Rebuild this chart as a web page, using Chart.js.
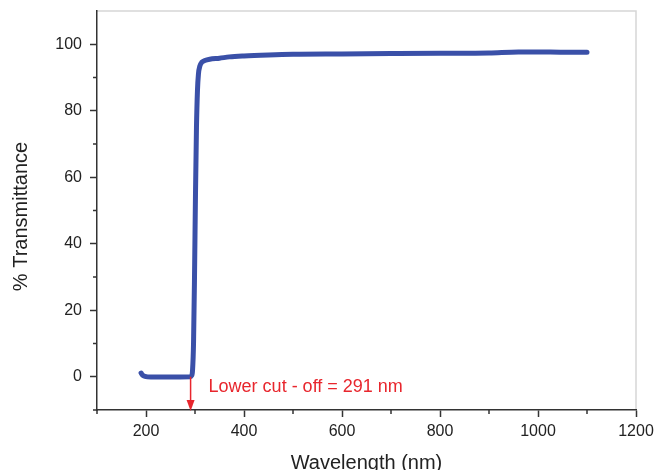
<!DOCTYPE html>
<html>
<head>
<meta charset="utf-8">
<script src="https://cdn.jsdelivr.net/npm/chart.js@4.4.1/dist/chart.umd.min.js"></script>
<style>
  html, body { margin: 0; padding: 0; background: #fff; overflow: hidden; }
  #wrap { width: 656px; height: 470px; }
</style>
</head>
<body>
<div id="wrap"><canvas id="spectrum" width="656" height="470"></canvas></div>
<script>
// UV-Vis-NIR transmittance spectrum
const wavelength = [190, 193, 198, 210, 250, 290, 293, 295, 297, 299, 301, 303, 305, 307, 310, 314,
  320, 330, 350, 370, 400, 450, 500, 600, 700, 800, 900, 960, 1000, 1050, 1100];
const transmittance = [1.1, 0.5, 0.1, -0.1, -0.1, 0.0, 0.3, 2, 10, 30, 55, 75, 86, 91, 93.5, 94.6,
  95.1, 95.5, 95.8, 96.2, 96.5, 96.8, 97.0, 97.1, 97.2, 97.3, 97.4, 97.7, 97.7, 97.6, 97.6];

const xMajor = [200, 400, 600, 800, 1000, 1200];
const xMinor = [100, 300, 500, 700, 900, 1100];
const yMajor = [0, 20, 40, 60, 80, 100];
const yMinor = [-10, 10, 30, 50, 70, 90];

const cutOff = 291;
const cutOffLabel = 'Lower cut - off = 291 nm';
const xTitle = 'Wavelength (nm)';
const yTitle = '% Transmittance';

const FONT = "'Liberation Sans', Arial, Helvetica, sans-serif";
const AXIS = '#333333';
const RED = '#e8262d';

const extras = {
  id: 'extras',
  beforeDraw(chart) {
    // light frame on top and right
    const { ctx, chartArea: a } = chart;
    ctx.save();
    ctx.strokeStyle = '#d6d6d6';
    ctx.lineWidth = 1.5;
    ctx.beginPath();
    ctx.moveTo(a.left, a.top);
    ctx.lineTo(a.right, a.top);
    ctx.lineTo(a.right, a.bottom);
    ctx.stroke();
    ctx.restore();
  },
  afterDatasetsDraw(chart) {
    const { ctx, scales: { x, y } } = chart;
    const px = x.getPixelForValue(cutOff);
    const top = y.getPixelForValue(0);
    const tip = y.getPixelForValue(-10) + 1;
    ctx.save();
    ctx.strokeStyle = RED;
    ctx.fillStyle = RED;
    ctx.lineWidth = 1.5;
    ctx.beginPath();
    ctx.moveTo(px, top);
    ctx.lineTo(px, tip - 6);
    ctx.stroke();
    ctx.beginPath();
    ctx.moveTo(px, tip);
    ctx.lineTo(px - 4, tip - 11);
    ctx.lineTo(px + 4, tip - 11);
    ctx.closePath();
    ctx.fill();
    ctx.font = '18px ' + FONT;
    ctx.textAlign = 'left';
    ctx.textBaseline = 'middle';
    ctx.fillText(cutOffLabel, px + 18, top + 10);
    ctx.restore();
  },
  afterDraw(chart) {
    const { ctx, chartArea: a, scales: { x, y } } = chart;
    ctx.save();
    // minor ticks
    ctx.strokeStyle = AXIS;
    ctx.lineWidth = 1.5;
    ctx.beginPath();
    xMinor.forEach(v => {
      const p = x.getPixelForValue(v);
      ctx.moveTo(p, a.bottom);
      ctx.lineTo(p, a.bottom + 4);
    });
    yMinor.forEach(v => {
      const p = y.getPixelForValue(v);
      ctx.moveTo(a.left, p);
      ctx.lineTo(a.left - 4, p);
    });
    ctx.stroke();

    // axis titles
    ctx.fillStyle = '#222';
    ctx.font = '20px ' + FONT;
    ctx.textAlign = 'center';
    ctx.textBaseline = 'middle';
    ctx.fillText(xTitle, (a.left + a.right) / 2, 463);
    ctx.translate(21, (a.top + a.bottom) / 2 + 6);
    ctx.rotate(-Math.PI / 2);
    ctx.fillText(yTitle, 0, 0);
    ctx.restore();
  }
};

const ctx = document.getElementById('spectrum').getContext('2d');
const spectrumChart = new Chart(ctx, {
  type: 'line',
  data: {
    datasets: [{
      label: 'Transmittance',
      data: wavelength.map((w, i) => ({ x: w, y: transmittance[i] })),
      borderColor: '#3a50a8',
      borderWidth: 5,
      borderCapStyle: 'round',
      borderJoinStyle: 'round',
      cubicInterpolationMode: 'monotone',
      pointRadius: 0,
      fill: false
    }]
  },
  options: {
    responsive: false,
    animation: false,
    layout: { padding: { top: 11, right: 20, left: 0, bottom: 0 } },
    plugins: { legend: { display: false }, tooltip: { enabled: false } },
    scales: {
      x: {
        type: 'linear',
        min: 100,
        max: 1200,
        afterBuildTicks: s => { s.ticks = xMajor.map(v => ({ value: v })); },
        afterFit: s => { s.height = 60; s.paddingLeft = 0; s.paddingRight = 0; },
        grid: { drawOnChartArea: false, tickLength: 7, tickWidth: 1.5, tickColor: AXIS },
        border: { color: AXIS, width: 1.5 },
        ticks: { padding: 5, color: '#222', font: { family: FONT, size: 16 }, maxRotation: 0,
          callback: v => String(v) }
      },
      y: {
        min: -10,
        max: 110,
        afterBuildTicks: s => { s.ticks = yMajor.map(v => ({ value: v })); },
        afterFit: s => { s.width = 97; s.paddingTop = 0; s.paddingBottom = 0; },
        grid: { drawOnChartArea: false, tickLength: 7, tickWidth: 1.5, tickColor: AXIS },
        border: { color: AXIS, width: 1.5 },
        ticks: { padding: 8, color: '#222', font: { family: FONT, size: 16 },
          callback: v => String(v) }
      }
    }
  },
  plugins: [extras]
});
</script>
</body>
</html>
